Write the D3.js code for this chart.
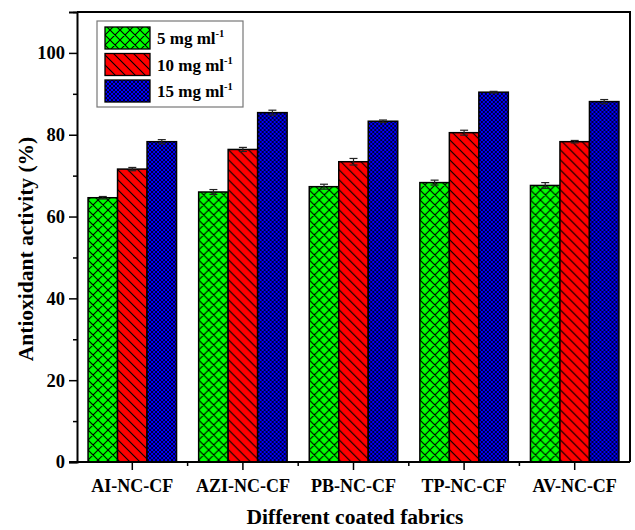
<!DOCTYPE html>
<html>
<head>
<meta charset="utf-8">
<script src="https://cdn.jsdelivr.net/npm/d3@7/dist/d3.min.js"></script>
<style>
  html, body { margin: 0; padding: 0; background: #fff; }
  svg text { font-family: "Liberation Serif", "Times New Roman", serif; font-weight: bold; }
</style>
</head>
<body>
<svg id="chart" width="635" height="530"></svg>
<script>
// Antioxidant activity of the coated fabrics at three extract concentrations
const categories = ["AI-NC-CF", "AZI-NC-CF", "PB-NC-CF", "TP-NC-CF", "AV-NC-CF"];
const seriesNames = ["5 mg ml", "10 mg ml", "15 mg ml"];
const values5  = [64.6, 66.0, 67.3, 68.3, 67.6];
const values10 = [71.6, 76.4, 73.4, 80.5, 78.3];
const values15 = [78.3, 85.4, 83.3, 90.4, 88.1];
const err5  = [0.3, 0.6, 0.6, 0.6, 0.7];
const err10 = [0.4, 0.5, 0.8, 0.6, 0.3];
const err15 = [0.5, 0.6, 0.3, 0.2, 0.5];
const yTicks = [0, 20, 40, 60, 80, 100];

const seriesValues = [values5, values10, values15];
const seriesErrors = [err5, err10, err15];
const fills = ["url(#hatchGreen)", "url(#hatchRed)", "url(#hatchBlue)"];

const svg = d3.select("#chart");
const plotLeft = 77, plotRight = 630, plotTop = 12, plotBottom = 462;

const x = d3.scaleBand().domain(categories).range([plotLeft, plotRight]).paddingInner(0).paddingOuter(0);
const groupWidth = x.bandwidth() * 0.8;
const xs = d3.scaleBand().domain(d3.range(3)).range([0, groupWidth]);
const y = d3.scaleLinear().domain([0, 110]).range([plotBottom, plotTop]);

// hatch patterns
const defs = svg.append("defs");
function pattern(id, size, color, path, sw) {
  const p = defs.append("pattern").attr("id", id)
    .attr("patternUnits", "userSpaceOnUse").attr("width", size).attr("height", size);
  p.append("rect").attr("width", size).attr("height", size).attr("fill", color);
  p.append("path").attr("d", path).attr("stroke", "#000").attr("stroke-width", sw).attr("fill", "none");
}
const cross = s => `M0,0L${s},${s}M${s},0L0,${s}M-1,${s-1}L1,${s+1}M${s-1},-1L${s+1},1M-1,1L1,-1M${s-1},${s+1}L${s+1},${s-1}`;
pattern("hatchGreen", 10, "#00ff00", cross(10), 1.1);
pattern("hatchRed", 10, "#ff0000", "M0,0L10,10M-1,9L1,11M9,-1L11,1", 1.1);
pattern("hatchBlue", 4, "#0000ff", cross(4), 0.8);

// bars
const groups = svg.append("g").selectAll("g").data(categories).join("g")
  .attr("transform", d => `translate(${x(d) + (x.bandwidth() - groupWidth) / 2},0)`);

groups.each(function(cat, ci) {
  const g = d3.select(this);
  seriesValues.forEach((vals, si) => {
    const v = vals[ci];
    g.append("rect")
      .attr("x", xs(si)).attr("width", xs.bandwidth())
      .attr("y", y(v)).attr("height", y(0) - y(v))
      .attr("fill", fills[si]).attr("stroke", "#000").attr("stroke-width", 1.5);
  });
  seriesValues.forEach((vals, si) => {
    const v = vals[ci], e = seriesErrors[si][ci];
    const cx = xs(si) + xs.bandwidth() / 2;
    const eg = g.append("g").attr("stroke", "#222").attr("stroke-width", 1.2);
    eg.append("line").attr("x1", cx).attr("x2", cx).attr("y1", y(v + e)).attr("y2", y(v - e));
    eg.append("line").attr("x1", cx - 4).attr("x2", cx + 4).attr("y1", y(v + e)).attr("y2", y(v + e));
    eg.append("line").attr("x1", cx - 4).attr("x2", cx + 4).attr("y1", y(v - e)).attr("y2", y(v - e));
  });
});

// frame: top and right borders
svg.append("path")
  .attr("d", `M${plotLeft},${plotTop}H${plotRight}V${plotBottom}`)
  .attr("fill", "none").attr("stroke", "#000").attr("stroke-width", 2);

// y axis
const yAxis = d3.axisLeft(y).tickValues(yTicks).tickSize(8).tickPadding(4);
const gy = svg.append("g").attr("transform", `translate(${plotLeft},0)`).call(yAxis);
gy.select(".domain").attr("stroke-width", 2);
gy.selectAll(".tick line").attr("stroke-width", 1.5);
gy.selectAll(".tick text").attr("font-size", 18.5).attr("fill", "#000");
const yMinor = d3.axisLeft(y).tickValues([10, 30, 50, 70, 90, 110]).tickSize(4).tickFormat("");
const gym = svg.append("g").attr("transform", `translate(${plotLeft},0)`).call(yMinor);
gym.select(".domain").remove();
gym.selectAll(".tick line").attr("stroke-width", 1.5);

// x axis
const xAxis = d3.axisBottom(x).tickSize(8).tickPadding(9);
const gx = svg.append("g").attr("transform", `translate(0,${plotBottom})`).call(xAxis);
gx.select(".domain").attr("stroke-width", 2).attr("d", `M${plotLeft - 8},0H${plotRight}`);
gx.selectAll(".tick line").attr("stroke-width", 1.5);
gx.selectAll(".tick text").attr("font-size", 18).attr("fill", "#000");
const boundaries = categories.slice(1).map(c => x(c));
svg.append("g").selectAll("line").data(boundaries).join("line")
  .attr("x1", d => d).attr("x2", d => d)
  .attr("y1", plotBottom).attr("y2", plotBottom + 4)
  .attr("stroke", "#000").attr("stroke-width", 1.5);

// axis titles
svg.append("text")
  .attr("x", 355).attr("y", 524)
  .attr("text-anchor", "middle").attr("font-size", 21.5)
  .text("Different coated fabrics");
svg.append("text")
  .attr("transform", `translate(33,249) rotate(-90)`)
  .attr("text-anchor", "middle").attr("font-size", 21.5)
  .text("Antioxidant activity (%)");

// legend
const legend = svg.append("g");
legend.append("rect")
  .attr("x", 97).attr("y", 21).attr("width", 146).attr("height", 86)
  .attr("fill", "#fff").attr("stroke", "#777").attr("stroke-width", 1.2);
seriesNames.forEach((name, i) => {
  const yy = 27 + i * 26.5;
  legend.append("rect")
    .attr("x", 105).attr("y", yy).attr("width", 45).attr("height", 22)
    .attr("fill", fills[i]).attr("stroke", "#000").attr("stroke-width", 1.3);
  const t = legend.append("text").attr("x", 157).attr("y", yy + 17).attr("font-size", 17);
  t.append("tspan").text(name);
  t.append("tspan").attr("dy", -7).attr("font-size", 10.5).text("-1");
});
</script>
</body>
</html>
